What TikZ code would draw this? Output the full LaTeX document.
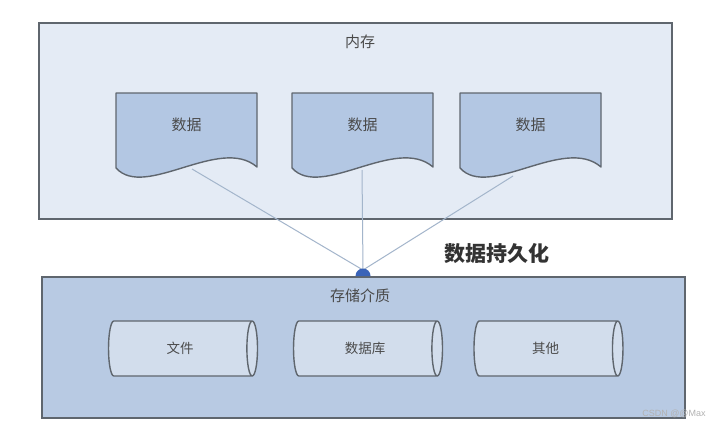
\documentclass[tikz,border=0pt]{standalone}
\usepackage{fontspec}
\newfontfamily\cjk{Noto Sans CJK SC}
\newfontfamily\wmfont{Liberation Sans}
\usetikzlibrary{shapes.geometric}
\definecolor{memfill}{HTML}{E4EBF5}
\definecolor{storefill}{HTML}{B8CAE3}
\definecolor{docfill}{HTML}{B3C7E3}
\definecolor{cylfill}{HTML}{D2DDEC}
\definecolor{edgec}{HTML}{5F666E}
\definecolor{linkc}{HTML}{A3B5CB}
\definecolor{hubc}{HTML}{3A63B8}
\definecolor{txt}{HTML}{4A4A4A}
\begin{document}
\begin{tikzpicture}[x=1pt,y=-1pt,
  panel/.style={draw=edgec,line width=1.6pt},
  docshape/.style={draw=edgec,fill=docfill,line width=1.4pt,line join=round},
  lbl/.style={font=\cjk\fontsize{15}{15}\selectfont,text=txt,inner sep=0pt},
  cyl/.style={shape=cylinder,draw=edgec,fill=cylfill,line width=1.4pt,
    minimum width=55pt,minimum height=149pt,aspect=0.85,inner sep=0pt,
    font=\cjk\fontsize{13.5}{13.5}\selectfont,text=txt},
  link/.style={draw=linkc,line width=1pt}]
\useasboundingbox (0,0) rectangle (719,431);
\fill[white] (0,0) rectangle (719,431);
% memory panel
\draw[panel,fill=memfill] (39,23) rectangle (672,219);
\node[lbl] (memlabel) at (360,42) {内存};
% storage panel
\draw[panel,fill=storefill] (42,277) rectangle (685,418);
\node[lbl] (storelabel) at (360,296) {存储介质};
% connectors
\coordinate (d1) at (192,169);
\coordinate (d2) at (362,170);
\coordinate (d3) at (513,176);
\coordinate (hub) at (363,270);
\draw[link] (d1) -- (hub);
\draw[link] (d2) -- (hub);
\draw[link] (d3) -- (hub);
\fill[hubc] (355.5,276) arc[start angle=180,end angle=360,radius=7.5];
% documents
\foreach \dx/\n in {0/1,176/2,344/3}{
  \begin{scope}[xshift=\dx pt]
    \draw[docshape] (116,93) -- (257,93) -- (257,167)
      .. controls (220,135) and (145,200) .. (116,168) -- cycle;
    \node[lbl] (doc\n) at (186.5,125) {数据};
  \end{scope}
}
% cylinders
\node[cyl] (file) at (180,348.5) {文件};
\node[cyl] (db) at (365,348.5) {数据库};
\node[cyl] (other) at (545.5,348.5) {其他};
% title
\node[font=\cjk\bfseries\fontsize{21}{21}\selectfont,text=black!80,inner sep=0pt] (persist) at (497,254) {数据持久化};
\node[font=\wmfont\fontsize{9}{9}\selectfont,text=gray!60,inner sep=0pt] (wm) at (674,414) {CSDN @@Max};
\end{tikzpicture}
\end{document}
